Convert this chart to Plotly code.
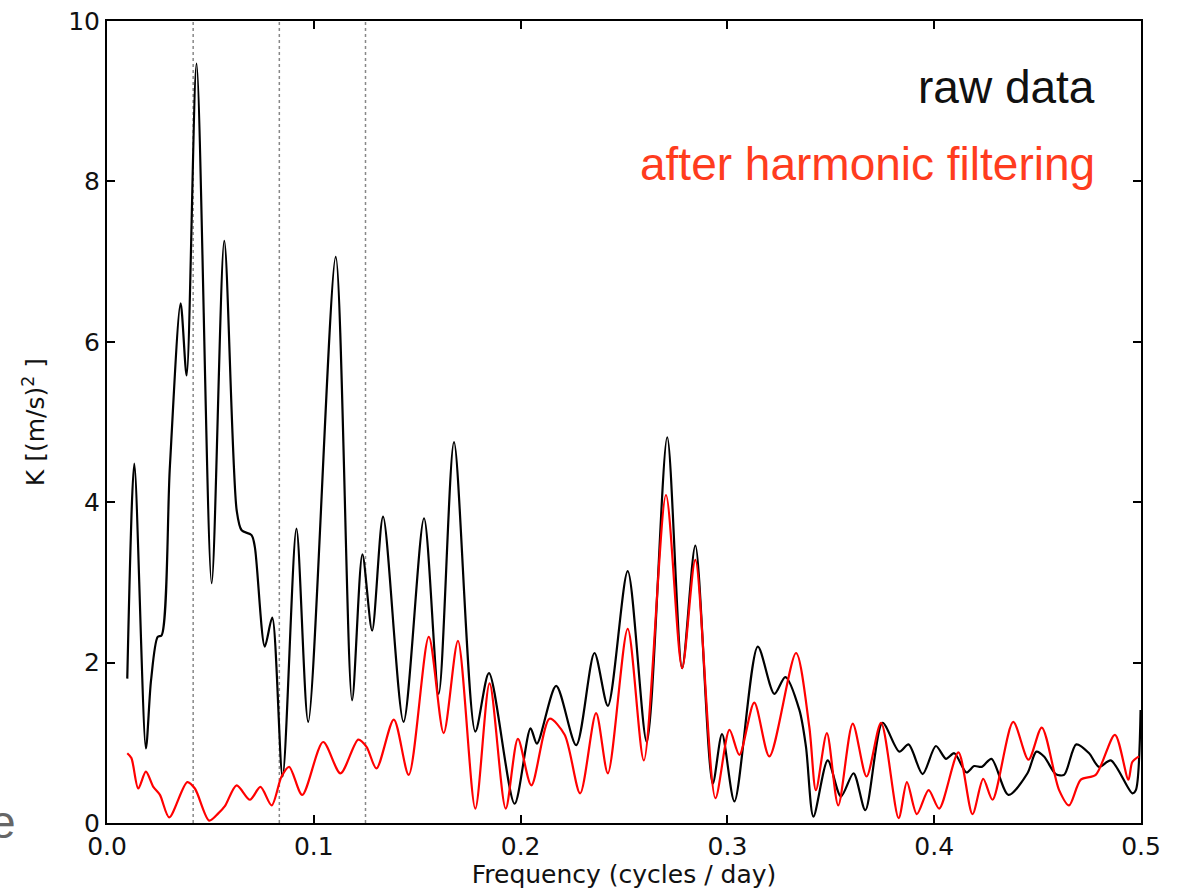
import plotly.graph_objects as go

# ---- data ----
raw_freq = [0.0098, 0.0132, 0.0188, 0.0213, 0.0245, 0.0264, 0.0304, 0.0356, 0.0385, 0.0433,
            0.0506, 0.0567, 0.0627, 0.0651, 0.0699, 0.0715, 0.0763, 0.0799, 0.0849, 0.0916,
            0.0973, 0.1106, 0.1185, 0.1235, 0.1282, 0.1335, 0.1434, 0.1533, 0.1604, 0.1678,
            0.1781, 0.1847, 0.1971, 0.2048, 0.2079, 0.2172, 0.2269, 0.2357, 0.2422, 0.2518,
            0.2610, 0.2709, 0.2781, 0.2845, 0.2929, 0.2974, 0.3034, 0.3147, 0.3227, 0.3280,
            0.3348, 0.3380, 0.3416, 0.3485, 0.3549, 0.3610, 0.3667, 0.3750, 0.3831, 0.3876,
            0.3944, 0.4008, 0.4057, 0.4097, 0.4156, 0.4193, 0.4230, 0.4277, 0.4359, 0.4451,
            0.4494, 0.4531, 0.4588, 0.4628, 0.4687, 0.4749, 0.4797, 0.4854, 0.4958, 0.4975,
            0.4998]
raw_k = [1.80, 4.48, 0.93, 1.78, 2.32, 2.34, 4.44, 6.48, 5.58, 9.47,
         2.99, 7.26, 3.90, 3.65, 3.59, 3.44, 2.20, 2.56, 0.58, 3.67,
         1.26, 7.06, 1.53, 3.35, 2.40, 3.82, 1.26, 3.80, 1.61, 4.75,
         1.14, 1.87, 0.24, 1.18, 0.99, 1.71, 0.97, 2.12, 1.46, 3.14,
         1.01, 4.81, 1.93, 3.46, 0.49, 1.11, 0.27, 2.20, 1.61, 1.82,
         1.41, 0.95, 0.08, 0.78, 0.33, 0.62, 0.16, 1.25, 0.89, 0.98,
         0.61, 0.96, 0.80, 0.87, 0.63, 0.71, 0.70, 0.80, 0.35, 0.62,
         0.89, 0.83, 0.61, 0.60, 0.98, 0.87, 0.70, 0.78, 0.37, 0.41,
         1.41]

filt_freq = [0.0098, 0.0118, 0.0151, 0.0188, 0.0224, 0.0256, 0.0301, 0.0388, 0.0425, 0.0494,
             0.0538, 0.0570, 0.0627, 0.0691, 0.0742, 0.0796, 0.0844, 0.0881, 0.0944, 0.1045,
             0.1129, 0.1215, 0.1255, 0.1303, 0.1387, 0.1459, 0.1556, 0.1628, 0.1697, 0.1781,
             0.1850, 0.1928, 0.1987, 0.2052, 0.2140, 0.2213, 0.2288, 0.2365, 0.2422, 0.2518,
             0.2596, 0.2703, 0.2781, 0.2845, 0.2942, 0.3010, 0.3058, 0.3130, 0.3203, 0.3332,
             0.3396, 0.3428, 0.3481, 0.3536, 0.3606, 0.3673, 0.3743, 0.3828, 0.3868, 0.3916,
             0.3973, 0.4024, 0.4117, 0.4185, 0.4237, 0.4282, 0.4382, 0.4456, 0.4520, 0.4604,
             0.4652, 0.4709, 0.4781, 0.4874, 0.4939, 0.4958, 0.4990]
filt_k = [0.87, 0.81, 0.43, 0.64, 0.45, 0.35, 0.07, 0.51, 0.43, 0.03,
          0.12, 0.21, 0.47, 0.29, 0.45, 0.22, 0.58, 0.70, 0.35, 1.01,
          0.62, 1.04, 0.95, 0.68, 1.29, 0.60, 2.32, 1.12, 2.27, 0.18,
          1.74, 0.18, 1.05, 0.47, 1.30, 1.10, 0.37, 1.37, 0.62, 2.42,
          0.78, 4.09, 1.93, 3.28, 0.31, 1.16, 0.85, 1.50, 0.83, 2.12,
          1.20, 0.41, 1.12, 0.22, 1.24, 0.58, 1.25, 0.06, 0.51, 0.11,
          0.41, 0.18, 0.88, 0.11, 0.55, 0.29, 1.26, 0.79, 1.19, 0.41,
          0.22, 0.54, 0.60, 1.10, 0.54, 0.76, 0.83]

harmonic_freqs = [1 / 24, 1 / 12, 1 / 8]
x_ticks = [0.0, 0.1, 0.2, 0.3, 0.4, 0.5]
y_ticks = [0, 2, 4, 6, 8, 10]

tick_font = dict(family="DejaVu Sans", size=25, color="#111111")

fig = go.Figure()
fig.add_trace(go.Scatter(x=raw_freq, y=raw_k, mode="lines",
                         line=dict(color="black", width=2.2, shape="spline", smoothing=0.8),
                         showlegend=False, name="raw data"))
fig.add_trace(go.Scatter(x=filt_freq, y=filt_k, mode="lines",
                         line=dict(color="#ff0000", width=2.2, shape="spline", smoothing=0.8),
                         showlegend=False, name="after harmonic filtering"))

for f in harmonic_freqs:
    fig.add_shape(type="line", x0=f, x1=f, y0=0, y1=1, xref="x", yref="paper",
                  line=dict(color="#888888", width=1.5, dash="dot"), layer="below")

plot_l, plot_r, plot_t, plot_b = 107, 38, 21, 66
pw = 1179 - plot_l - plot_r
ph = 889 - plot_t - plot_b


def px(xp):
    return (xp - plot_l) / pw


def py(yp):
    return 1 - (yp - plot_t) / ph


label_font = dict(family="Liberation Sans", size=46)
fig.add_annotation(text="raw data", x=px(1097), y=py(104), xref="paper", yref="paper",
                   xanchor="right", yanchor="bottom", showarrow=False, yshift=-11,
                   font=dict(**label_font, color="#111111"))
fig.add_annotation(text="after harmonic filtering", x=px(1097), y=py(181), xref="paper", yref="paper",
                   xanchor="right", yanchor="bottom", showarrow=False, yshift=-11,
                   font=dict(**label_font, color="#ff3c1e"))
fig.add_annotation(text="e", x=px(18), y=py(822), xref="paper", yref="paper",
                   xanchor="right", yanchor="middle", showarrow=False,
                   font=dict(family="Liberation Sans", size=46, color="#666666"))

fig.update_layout(
    width=1179, height=889,
    margin=dict(l=plot_l, r=plot_r, t=plot_t, b=plot_b, autoexpand=False),
    paper_bgcolor="white", plot_bgcolor="white",
    font=tick_font,
)
fig.update_xaxes(range=[0, 0.5], tickvals=x_ticks, ticktext=[f"{v:.1f}" for v in x_ticks],
                 ticks="inside", ticklen=8, tickwidth=1.5, tickcolor="black",
                 showline=True, linecolor="black", linewidth=2, mirror="allticks",
                 showgrid=False, zeroline=False, tickfont=tick_font,
                 title=dict(text="Frequency (cycles / day)", font=tick_font, standoff=6))
fig.update_yaxes(range=[0, 10], tickvals=y_ticks, ticktext=[str(v) for v in y_ticks],
                 ticks="inside", ticklen=8, tickwidth=1.5, tickcolor="black",
                 showline=True, linecolor="black", linewidth=2, mirror="allticks",
                 showgrid=False, zeroline=False, tickfont=tick_font,
                 title=dict(text="K [(m/s)<sup>2</sup> ]",
                            font=dict(family="DejaVu Sans", size=25, color="#111111"), standoff=16))

fig.write_html("out.html")
